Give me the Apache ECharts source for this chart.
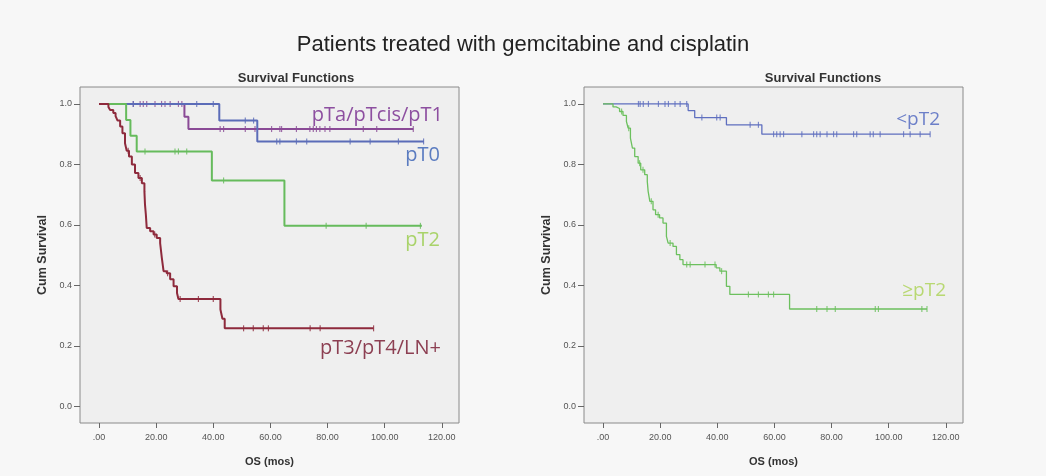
<!DOCTYPE html>
<html>
<head>
<meta charset="utf-8">
<script src="https://cdn.jsdelivr.net/npm/echarts@6.0.0/dist/echarts.min.js"></script>
<style>
  html, body { margin: 0; padding: 0; background: #f7f7f7; }
  #main { width: 1046px; height: 476px; }
</style>
</head>
<body>
<div id="main"></div>
<script>
// tick values
var xTicks = [0, 20, 40, 60, 80, 100, 120];
var yTicks = [0, 0.2, 0.4, 0.6, 0.8, 1.0];

// left panel: event times / survival after event / censored times / last follow-up
var pTaTimes = [0, 29.9, 31.3];
var pTaSurv = [1, 0.958, 0.917];
var pTaCens = [12.0, 14.4, 15.5, 16.7, 19.6, 21.9, 23.1, 24.9, 27.8, 29.0, 42.4, 43.6, 51.2, 54.6, 60.4, 63.3, 63.9, 69.1, 73.8, 75.0, 76.1, 77.3, 79.1, 80.8, 92.5, 97.2, 110];
var pTaEnd = 110;

var pT0Times = [0, 42.1, 55.4];
var pT0Surv = [1, 0.945, 0.876];
var pT0Cens = [12, 34.2, 40, 51.2, 54.1, 62.2, 63.3, 69.1, 72.7, 87.9, 94.9, 104.8, 113.6];
var pT0End = 113.7;

var pT2Times = [0, 9.5, 11, 13.2, 39.5, 64.9];
var pT2Surv = [1, 0.947, 0.895, 0.843, 0.747, 0.597];
var pT2Cens = [16.1, 26.6, 27.8, 30.7, 43.6, 79.5, 93.5, 112.5];
var pT2End = 113;

var pT3Times = [0, 3.3, 3.9, 5.0, 5.8, 6.5, 7.4, 8.2, 9.1, 9.7, 10.5, 11.5, 12.6, 13.8, 15.0, 15.9, 16.1, 16.4, 16.7, 17.9, 19.1, 20.2, 21.4, 22.0, 22.6, 23.7, 24.9, 26.1, 27.3, 27.8, 42.5, 43.2, 44.0];
var pT3Surv = [1, 0.99, 0.98, 0.97, 0.96, 0.945, 0.925, 0.903, 0.87, 0.845, 0.826, 0.80, 0.772, 0.755, 0.738, 0.71, 0.667, 0.634, 0.59, 0.579, 0.568, 0.557, 0.54, 0.49, 0.447, 0.44, 0.42, 0.397, 0.375, 0.355, 0.32, 0.29, 0.258];
var pT3Cens = [10.2, 14.4, 19.5, 24.0, 28.4, 34.8, 40, 50.6, 54, 57.5, 59.3, 73.9, 77.4, 96.1];
var pT3End = 96.1;

// right panel
var ltTimes = [0, 29.8, 32.1, 43.2, 55.6];
var ltSurv = [1, 0.978, 0.955, 0.931, 0.90];
var ltCens = [12.4, 13, 14.1, 15.9, 19.4, 21.7, 22.9, 25.2, 27, 29.3, 34.6, 39.8, 41, 51.5, 54.4, 59.7, 60.8, 62, 63.2, 69.6, 73.7, 74.8, 76, 78.4, 80.7, 81.8, 87.7, 88.8, 93.5, 94.6, 97, 105.2, 107.5, 111, 114.5];
var ltEnd = 114.5;

var geTimes = [0, 3.5, 4.6, 5.8, 7.0, 8.2, 8.8, 9.6, 10.3, 11.1, 12.3, 13.2, 14.6, 15.5, 15.8, 16.4, 17.5, 18.4, 19.8, 21.0, 22.2, 22.8, 24.5, 25.7, 26.9, 28.0, 39.6, 40.9, 43.2, 44.4, 65.3];
var geSurv = [1, 0.99, 0.985, 0.975, 0.962, 0.942, 0.92, 0.887, 0.854, 0.826, 0.804, 0.782, 0.766, 0.744, 0.711, 0.678, 0.65, 0.634, 0.623, 0.606, 0.562, 0.54, 0.529, 0.502, 0.485, 0.469, 0.458, 0.447, 0.397, 0.37, 0.322];
var geCens = [6.5, 9, 12.8, 14, 16.9, 19.3, 23.5, 29.3, 30.5, 35.7, 39.2, 41.5, 50.9, 54.4, 57.9, 59.7, 74.8, 78.4, 81.3, 95.3, 96.4, 111.6, 113.4];
var geEnd = 113.4;

function kmLine(times, surv, end) {
    var d = times.map(function (t, i) { return [t, surv[i]]; });
    d.push([end, surv[surv.length - 1]]);
    return d;
}

function censorPts(times, surv, cens) {
    return cens.map(function (c) {
        var s = 1;
        for (var i = 0; i < times.length; i++) {
            if (times[i] <= c) s = surv[i];
        }
        return [c, s];
    });
}

function curve(times, surv, cens, end, color, width, idx) {
    return [
        {
            type: 'line', step: 'end', symbol: 'none', silent: true,
            xAxisIndex: idx, yAxisIndex: idx,
            lineStyle: { color: color, width: width },
            data: kmLine(times, surv, end)
        },
        {
            type: 'scatter', symbol: 'rect', symbolSize: [1.2, 6], silent: true,
            xAxisIndex: idx, yAxisIndex: idx,
            itemStyle: { color: color },
            data: censorPts(times, surv, cens)
        }
    ];
}

function xAxisCfg(idx) {
    return {
        type: 'value', gridIndex: idx, min: -6.65, max: 126,
        axisLine: { show: false, onZero: false },
        splitLine: { show: false },
        axisTick: { show: true, customValues: xTicks, length: 5, lineStyle: { color: '#666' } },
        axisLabel: {
            customValues: xTicks, fontSize: 9, color: '#555', margin: 10,
            fontFamily: 'Liberation Sans',
            formatter: function (v) { return v === 0 ? '.00' : v.toFixed(2); }
        },
        name: 'OS (mos)', nameLocation: 'middle', nameGap: 33,
        nameTextStyle: { fontWeight: 'bold', fontSize: 11, color: '#333', fontFamily: 'Liberation Sans' }
    };
}

function yAxisCfg(idx) {
    return {
        type: 'value', gridIndex: idx, min: -0.055, max: 1.056,
        axisLine: { show: false, onZero: false },
        splitLine: { show: false },
        axisTick: { show: true, customValues: yTicks, length: 6, lineStyle: { color: '#666' } },
        axisLabel: {
            customValues: yTicks, fontSize: 9, color: '#555', margin: 8,
            fontFamily: 'Liberation Sans',
            formatter: function (v) { return v.toFixed(1); }
        },
        name: 'Cum Survival', nameLocation: 'middle', nameGap: 31,
        nameTextStyle: { fontWeight: 'bold', fontSize: 12.5, color: '#333', fontFamily: 'Liberation Sans' }
    };
}

var chart = echarts.init(document.getElementById('main'));

var series = [].concat(
    curve(pTaTimes, pTaSurv, pTaCens, pTaEnd, '#8a4a96', 2, 0),
    curve(pT0Times, pT0Surv, pT0Cens, pT0End, '#5b6cb8', 2, 0),
    curve(pT2Times, pT2Surv, pT2Cens, pT2End, '#66bb5c', 2, 0),
    curve(pT3Times, pT3Surv, pT3Cens, pT3End, '#8e2a3c', 2, 0),
    curve(ltTimes, ltSurv, ltCens, ltEnd, '#5f6fbf', 1.3, 1),
    curve(geTimes, geSurv, geCens, geEnd, '#6cc05e', 1.3, 1)
);

function label(text, x, y, color, size) {
    return {
        type: 'text', x: x, y: y, silent: true, z: 10,
        style: { text: text, fill: color, fontSize: size, fontFamily: 'Open Sans', align: 'right', verticalAlign: 'middle' }
    };
}

var option = {
    backgroundColor: '#f7f7f7',
    animation: false,
    title: [
        {
            text: 'Patients treated with gemcitabine and cisplatin',
            left: 'center', top: 29,
            textStyle: { fontSize: 22, fontWeight: 'normal', color: '#222', fontFamily: 'Liberation Sans' }
        },
        {
            text: 'Survival Functions', left: 291, top: 67, textAlign: 'center',
            textStyle: { fontSize: 13, fontWeight: 'bold', color: '#333', fontFamily: 'Liberation Sans' }
        },
        {
            text: 'Survival Functions', left: 818, top: 67, textAlign: 'center',
            textStyle: { fontSize: 13, fontWeight: 'bold', color: '#333', fontFamily: 'Liberation Sans' }
        }
    ],
    grid: [
        { left: 80, top: 87, width: 379, height: 336, show: true, backgroundColor: '#efefef', borderColor: '#8a8a8a', borderWidth: 1 },
        { left: 584, top: 87, width: 379, height: 336, show: true, backgroundColor: '#efefef', borderColor: '#8a8a8a', borderWidth: 1 }
    ],
    xAxis: [xAxisCfg(0), xAxisCfg(1)],
    yAxis: [yAxisCfg(0), yAxisCfg(1)],
    graphic: [
        label('pTa/pTcis/pT1', 443, 115, '#8d4fa0', 20),
        label('pT0', 440, 155, '#5b7cc0', 20),
        label('pT2', 440, 240, '#a9d36a', 20),
        label('pT3/pT4/LN+', 441, 348, '#8c3f52', 20),
        label('<pT2', 940, 120, '#6c7fc8', 19),
        label('\u2265pT2', 946, 291, '#b8d872', 19)
    ],
    series: series
};

chart.setOption(option);
</script>
</body>
</html>
